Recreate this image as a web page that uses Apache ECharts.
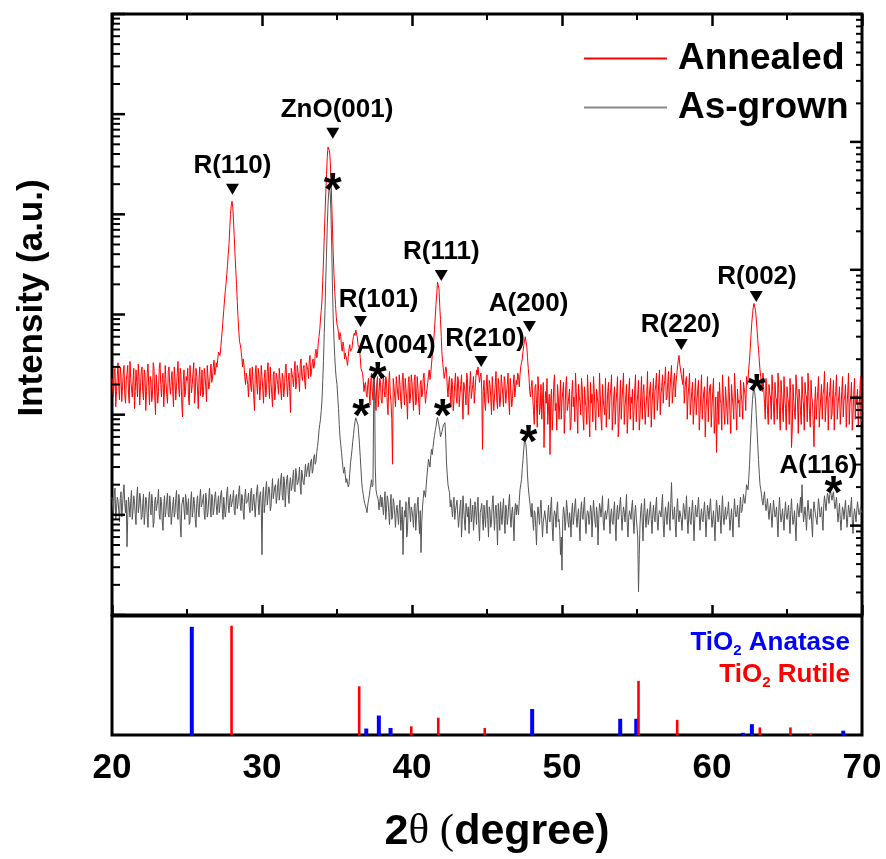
<!DOCTYPE html>
<html><head><meta charset="utf-8">
<script src="https://cdn.jsdelivr.net/npm/echarts@6/dist/echarts.min.js"></script>
<style>html,body{margin:0;padding:0;background:#fff}#chart{width:886px;height:859px}</style>
</head><body><div id="chart"></div>
<script>
// ---------- data ----------
const X_START = 20, X_STEP = 0.1; // 2theta sampling: main points at 20.0, 20.1 ... 70.0; mid points at 20.05 ... 69.95

// Annealed scan (a.u.), main points, one row = 1 degree
const annealed = [
2300,1500,2900,1700,3300,1400,2500,1900,3100,1300,
2600,1600,3400,1800,2200,1150,2800,1500,2400,1900,
3000,1400,2500,1700,3200,1250,2200,1600,2900,1000,
2400,1700,3300,1500,2600,1800,2100,1300,3000,1600,
2700,1200,2300,1900,3400,1500,2500,950,2800,1700,
2200,1450,3100,1650,2600,1300,2900,1800,2300,1550,
2800,1600,2500,1350,3000,2000,3200,2300,3500,2700,
3000,4200,3900,5800,8800,14000,20000,31000,50000,100000,
135000,86000,40000,20000,9500,5400,4500,3000,3100,2000,
2700,1500,2900,1700,2200,1100,3100,1600,2500,1900,
2400,1300,2800,1750,3300,1450,2100,1200,2700,1800,
2500,1600,3000,1400,2300,1900,3200,1500,2600,1050,
2800,1900,3400,2000,2700,1700,3600,2200,3100,1800,
3300,2300,3900,2700,3600,3100,4500,4000,6000,9000,
14000,35000,100000,250000,470000,430000,220000,70000,25000,12600,
7900,6500,6600,4700,5300,3600,4200,3100,4500,4300,
4600,6000,6200,7100,5000,4600,2900,2600,1700,2100,
1500,2300,1250,2600,1400,2000,1100,2400,1600,2100,
1300,2500,1500,2200,1000,2700,1350,320,1900,1200,
2300,1400,2000,1150,2600,1250,1800,900,2400,1500,
2100,1100,2500,1400,1800,1000,2200,1600,2600,1300,
1800,2500,2240,3200,4500,7100,12600,21000,18000,8900,
4000,2700,2240,2800,1500,2400,1200,2000,1400,2600,
1300,2200,1600,2500,900,1900,1250,2300,1500,2700,
1400,2400,1700,2800,3000,2100,2600,450,2200,1100,
2500,1300,2000,1000,2300,1500,2700,1150,1900,1400,
2400,1200,2100,1600,2600,1000,2200,1450,2500,1800,
2000,2400,2500,3300,4300,5400,5900,3700,2350,1500,
2200,1100,1900,1300,2400,1000,2000,1450,470,1700,
2300,1200,400,1800,1050,2500,1300,2000,900,2200,
1400,2100,1000,2400,1250,1800,800,2200,1500,2600,
1100,2000,1350,2300,950,1900,1200,2500,1000,2100,
1600,2400,1100,1800,1300,2600,900,2000,1450,2300,
1150,2100,1500,2500,1000,1900,1300,2400,850,2200,
1400,2600,1200,2000,1000,2300,1500,1800,1100,2500,
1300,2200,950,2400,1600,2000,1200,2700,1400,2100,
1250,2300,1700,2600,1400,2800,1600,2500,1900,3000,
1500,2700,1800,3100,1700,2600,2100,3000,3900,3300,
2600,2900,1800,2400,1500,2600,1300,2100,1150,2300,
1400,2200,1000,2500,1300,1900,1100,2400,1500,2000,
1200,2300,900,420,1700,2100,1300,2500,1050,1900,
1450,2400,1000,2000,1250,2600,1100,1800,1400,2200,
1300,2100,1600,2400,2240,3500,6300,10000,12900,11000,
7100,4500,2800,2000,2600,1300,2300,1100,2000,1500,
2500,1200,2100,1400,2600,1000,2200,1600,2400,1150,
1900,1300,2300,470,2000,1050,2500,1400,1800,1100,
2400,1250,2100,1500,2600,1000,2200,1350,480,1900,
1300,2400,1100,2000,1600,2700,1200,2100,1450,2300,
1000,2200,1500,2500,1250,1900,1100,2400,1400,2000,
1200,2600,1300,2100,1000,2300,1550,1800,1150,2400,
1450
];
// Annealed scan, mid points (20.05 ... 69.95)
const annealedMid = [
1800,2700,1200,2400,1900,3000,1350,2600,1600,2200,
3100,1300,2300,1500,2900,1700,2100,3200,1250,2700,
1700,2800,1100,2600,1900,2400,1350,3300,1500,2500,
1300,2900,2000,2300,1200,3100,1600,2700,1900,2200,
1700,3000,1400,2600,1800,2900,1300,2200,1500,2400,
2900,1250,2300,2000,3300,1600,2400,1150,3000,1900,
1500,2900,1900,3100,1800,2600,2100,3000,2500,3300,
3600,4100,4700,7000,11000,17000,25000,40000,72000,122000,
118000,60000,28000,13500,7000,5000,3700,3600,2400,2600,
2000,2400,1900,3000,1500,2600,2000,2900,1400,3100,
1800,2300,1500,2700,2000,3000,1600,2500,1400,2600,
2000,2900,1800,2600,1500,2800,2100,2200,1700,2900,
2300,2700,1800,3100,2300,3200,2400,2900,2100,3300,
2800,3500,2400,3300,2900,4100,3700,5200,7000,11000,
22000,60000,160000,370000,490000,340000,130000,40000,17000,9500,
7500,5600,6000,4300,4800,4100,3500,3800,5000,4200,
5500,6500,7000,6000,4800,3700,2800,2200,2000,1600,
2000,1600,2200,1700,2400,1500,2100,1200,2300,1400,
2000,1700,2400,1300,2100,1600,900,2300,1500,2400,
1600,2500,1350,2200,1700,2300,1400,2100,1300,2500,
1500,2200,1250,2400,1300,2000,1500,2300,1700,1600,
2100,2800,2600,3900,5500,9500,16000,21500,12000,6000,
3300,2300,3000,1900,2100,1600,2300,1100,2100,1500,
2400,1200,2000,1400,2100,1600,2600,1000,2000,1450,
2000,1300,2300,2500,3100,2400,1800,1700,1300,1900,
1600,2200,1500,2400,1100,2000,1400,2300,1200,2500,
1600,2400,1300,2000,1400,2300,1200,2000,1500,2200,
2600,1900,3000,3600,4900,6000,4800,2900,1700,1900,
1500,800,2000,750,1700,1200,900,2100,1100,1300,
800,1600,1400,700,2000,1100,700,1500,1300,900,
1700,650,1900,1100,1500,700,1600,1200,850,1700,
650,1500,1000,1800,700,1400,800,1600,600,1300,
850,1700,700,1500,950,1600,700,1400,1000,750,
1700,900,1800,700,1500,800,1700,600,1400,900,
1900,800,1500,650,1700,900,1300,700,1800,850,
1600,700,1500,900,2000,800,1600,950,1800,750,
1700,900,2000,1100,2100,1000,1900,1300,2200,1400,
2100,1200,2400,1300,2200,1500,2500,3500,3200,2500,
2000,1300,2200,900,1900,1000,1700,800,1600,1000,
1800,700,1600,900,1700,600,1500,850,1900,750,
1700,650,1500,1100,800,1400,700,1600,800,1400,
800,1700,650,1500,900,1800,700,1300,950,1600,
900,1800,1100,2000,2900,4600,8200,11800,13000,9000,
5600,3500,2400,1700,1800,900,1700,800,1600,900,
1700,800,1500,900,1800,700,1600,850,1500,700,
1500,800,1600,700,1400,900,1700,650,1500,800,
1500,700,1600,850,1700,750,1500,800,1300,900,
1700,750,1500,900,1800,850,1600,700,1700,900,
1600,700,1700,900,1500,800,1700,950,1500,750,
1700,800,1500,700,1600,900,1300,750,1600,850
];

// As-grown scan (a.u.), main points
const asGrown = [
150,100,185,115,140,85,170,120,200,105,
48,150,95,175,110,135,80,190,120,145,
95,160,105,140,75,170,100,130,85,150,
115,180,90,135,70,155,110,165,95,125,
80,150,105,175,90,140,60,130,115,160,
100,145,85,170,110,130,75,155,95,180,
120,160,90,140,105,185,95,150,115,170,
100,155,125,175,90,145,110,190,105,160,
120,175,100,160,130,195,110,150,90,180,
125,165,105,185,115,155,135,200,100,170,
40,190,130,215,150,180,120,230,140,200,
150,230,170,260,140,215,180,250,130,235,
190,280,170,250,210,300,160,270,200,320,
230,330,250,360,280,400,340,480,700,900,
1400,3500,11000,40000,125000,190000,100000,18000,5600,2800,
2000,1150,600,420,290,300,210,240,200,330,
447,630,850,960,790,500,280,178,141,126,
105,141,178,224,200,2450,178,166,112,158,
150,100,170,115,140,80,160,95,130,75,
125,80,140,90,40,110,135,70,150,85,
110,75,130,95,150,65,42,120,175,150,
250,360,300,450,470,620,760,940,900,600,
680,790,830,330,200,166,141,95,150,110,
140,75,120,60,155,85,130,95,65,145,
100,70,135,80,150,55,115,90,125,75,
140,60,110,85,155,70,125,50,105,135,
80,145,65,115,95,160,75,120,55,130,
126,100,178,224,355,560,500,250,158,112,
130,70,105,50,120,80,140,60,95,115,
65,125,85,150,55,110,75,135,90,40,
28,120,70,140,85,105,60,130,95,145,
75,115,55,135,90,150,65,110,80,125,
60,140,85,120,50,130,95,155,70,110,
90,145,65,115,80,135,55,125,100,150,
70,120,85,160,60,110,90,140,65,125,
95,17,80,130,55,145,75,115,90,135,
65,125,85,150,70,110,95,160,60,120,
80,135,70,210,90,120,60,145,85,115,
70,130,90,155,65,120,80,140,55,125,
95,150,70,115,85,135,60,125,90,145,
75,110,55,140,85,125,65,155,80,120,
90,135,70,115,60,145,95,125,75,150,
110,160,130,200,178,316,710,1410,1780,1400,
710,355,200,158,125,170,110,145,90,130,
75,140,95,120,60,150,85,115,70,135,
90,125,65,145,80,110,55,130,95,150,
200,85,120,70,140,90,115,60,135,100,
80,145,95,120,70,155,110,165,130,175,
140,170,115,150,85,130,70,120,90,140,
75,125,95,150,65,115,85,135,100,120,
105
];
// As-grown scan, mid points (20.05 ... 69.95)
const asGrownMid = [
120,160,90,150,110,145,95,165,130,140,
95,120,140,90,155,100,150,105,165,90,
130,80,150,95,140,115,160,75,135,110,
140,100,150,85,125,95,140,100,155,80,
125,95,145,105,160,80,125,150,90,140,
120,80,140,95,150,90,130,110,145,120,
140,100,165,95,145,120,160,100,150,125,
130,105,160,115,150,95,165,125,140,120,
145,110,150,115,170,125,160,105,150,130,
140,120,170,110,160,95,175,130,155,115,
160,105,180,125,190,110,170,145,190,130,
200,140,230,155,240,120,230,160,210,175,
230,180,290,200,240,190,280,210,260,240,
300,240,340,260,380,320,420,560,800,1100,
2200,6500,22000,75000,170000,160000,45000,9000,3800,2300,
1500,800,500,350,260,250,230,190,260,380,
540,750,930,920,640,380,210,160,130,115,
125,155,200,190,1800,300,160,140,135,120,
120,135,90,155,105,125,90,145,100,110,
100,115,70,120,85,95,60,125,110,120,
95,120,70,125,90,110,85,145,160,200,
300,330,390,400,550,700,880,920,700,620,
740,820,560,250,180,120,115,130,90,125,
100,95,140,90,115,70,110,120,100,85,
125,95,110,120,80,105,130,70,100,120,
90,120,75,130,100,110,90,130,70,100,
115,90,125,80,130,95,105,85,110,100,
115,140,200,290,450,530,380,190,135,95,
90,110,75,95,100,115,90,85,110,80,
100,90,120,75,95,100,110,85,70,60,
90,105,85,115,75,90,110,80,120,95,
100,80,110,95,120,85,95,105,90,110,
95,110,75,100,90,115,120,85,100,90,
115,95,100,85,110,80,105,90,125,100,
95,105,115,80,95,100,120,85,100,95,
60,40,110,85,105,95,100,80,115,90,
100,95,120,85,100,105,125,80,95,100,
110,95,130,115,95,80,105,100,110,90,
100,115,105,90,100,85,110,95,90,100,
120,100,95,90,110,95,90,110,120,100,
90,80,100,115,95,90,110,95,100,90,
110,95,90,85,105,110,100,95,120,105,
130,140,155,190,230,480,1050,1700,1650,1000,
500,260,180,135,150,130,125,110,115,100,
105,115,100,85,110,105,95,90,105,100,
105,90,110,100,90,80,100,110,120,105,
120,100,95,105,110,95,80,105,115,90,
110,120,100,90,125,130,140,150,160,155,
160,135,130,110,105,90,95,110,115,100,
95,110,120,90,95,100,110,115,105,110
];

// Reference patterns (relative intensity)
const anatasePos = [25.32, 36.95, 37.79, 38.57, 48.01, 53.88, 54.95, 62.06, 62.66, 68.75];
const anataseInt = [100, 6, 18, 6.5, 24, 15, 15, 2, 10, 4];
const rutilePos  = [27.97, 36.48, 39.95, 41.75, 44.85, 55.10, 57.68, 63.19, 65.23, 66.57];
const rutileInt  = [101, 45, 8, 16, 6.5, 50, 14, 7, 7, 1];

// Peak annotations
const peakNames  = ['R(110)', 'ZnO(001)', 'R(101)', 'A(004)', 'R(111)', 'R(210)', 'A(200)', 'R(220)', 'R(002)', 'A(116)'];
const peakLabelX = [28.03, 35.0, 37.77, 38.93, 41.95, 44.87, 47.77, 57.9, 63.0, 67.1];
const peakLabelY = [302000, 1096000, 14125, 4898, 42658, 5754, 12882, 7943, 23988, 309];
const markerX = [28.03, 34.72, 36.57, 41.95, 44.61, 47.83, 57.95, 62.95];
const markerY = [177800, 645700, 8511, 24547, 3388, 7586, 5012, 15136];
const starX = [34.72, 36.61, 37.72, 42.05, 47.77, 62.98, 68.1];
const starY = [213800, 1175, 2754, 1175, 646, 2089, 200];

const xTickLabels = [20, 30, 40, 50, 60, 70];

// ---------- build ----------
const FONT = '"Liberation Sans", Arial, Helvetica, sans-serif';
function mergeScan(main, mid) {
  const out = [];
  for (let i = 0; i < main.length; i++) {
    out.push([Math.round((X_START + i * X_STEP) * 100) / 100, main[i]]);
    if (i < mid.length) out.push([Math.round((X_START + (i + 0.5) * X_STEP) * 100) / 100, mid[i]]);
  }
  return out;
}
const annealedData = mergeScan(annealed, annealedMid);
const asGrownData = mergeScan(asGrown, asGrownMid);

function logTicks(decades, lo, hi, xPos) {
  const out = [];
  decades.forEach(d => {
    for (let m = 1; m <= 9; m++) {
      const v = d * m;
      if (v >= lo * 0.999 && v <= hi * 1.001) out.push([xPos, v, m === 1 ? 1 : 0]);
    }
  });
  return out;
}
const leftTicks = logTicks([1e1, 1e2, 1e3, 1e4, 1e5, 1e6, 1e7], 10, 1e7, 20);
const rightTicks = logTicks([0.1, 1, 10, 100, 1000, 10000], 0.2, 1e4, 70);

function tickRender(dir, majorLen, minorLen) {
  return function (params, api) {
    const p = api.coord([api.value(0), api.value(1)]);
    const major = api.value(2) === 1;
    const len = major ? majorLen : minorLen;
    return { type: 'line', shape: { x1: p[0], y1: p[1], x2: p[0] + dir * len, y2: p[1] },
      style: { stroke: '#000', lineWidth: major ? 2.5 : 2 } };
  };
}
function stickRender(w, color) {
  return function (params, api) {
    const b = api.coord([api.value(0), 0]);
    const t = api.coord([api.value(0), api.value(1)]);
    return { type: 'rect', shape: { x: b[0] - w / 2, y: t[1], width: w, height: b[1] - t[1] },
      style: { fill: color } };
  };
}

const hiddenAxis = { axisLine: { show: false }, axisTick: { show: false }, axisLabel: { show: false }, splitLine: { show: false } };
const tickedX = (pos, len) => ({
  gridIndex: 0, type: 'value', min: 20, max: 70, interval: 10, position: pos,
  axisLine: { show: false },
  axisTick: { show: true, inside: true, length: len, lineStyle: { color: '#000', width: 2.5 } },
  minorTick: { show: true, splitNumber: 2, length: 6, lineStyle: { color: '#000', width: 2 } },
  axisLabel: { show: false }, splitLine: { show: false }, minorSplitLine: { show: false }
});

const chart = echarts.init(document.getElementById('chart'), null, { renderer: 'canvas' });
chart.setOption({
  animation: false,
  backgroundColor: '#fff',
  grid: [
    { left: 112, top: 14, width: 750, height: 601, show: true, borderColor: '#000', borderWidth: 3, backgroundColor: 'transparent' },
    { left: 112, top: 616, width: 750, height: 119, show: true, borderColor: '#000', borderWidth: 3, backgroundColor: 'transparent' }
  ],
  xAxis: [
    tickedX('bottom', 10),
    tickedX('top', 12),
    Object.assign({ gridIndex: 1, type: 'value', min: 20, max: 70, interval: 10, position: 'bottom' }, hiddenAxis, {
      axisLabel: { show: true, fontSize: 35, fontWeight: 'bold', color: '#000', fontFamily: FONT, margin: 16,
        formatter: v => (xTickLabels.indexOf(v) >= 0 ? String(v) : '') }
    })
  ],
  yAxis: [
    Object.assign({ gridIndex: 0, type: 'log', logBase: 10, min: 10, max: 1e7, position: 'left' }, hiddenAxis),
    Object.assign({ gridIndex: 0, type: 'log', logBase: 10, min: 0.2, max: 1e4, position: 'right' }, hiddenAxis),
    Object.assign({ gridIndex: 1, type: 'value', min: 0, max: 110 }, hiddenAxis)
  ],
  legend: {
    data: [{ name: 'Annealed' }, { name: 'As-grown', itemStyle: { color: '#8a8a8a' } }],
    orient: 'vertical', left: 584, top: 40, padding: 0, icon: 'rect', itemWidth: 83, itemHeight: 2, itemGap: 12,
    selectedMode: false,
    textStyle: { fontSize: 37, fontWeight: 'bold', color: '#000', fontFamily: FONT, padding: [0, 0, 0, 6] }
  },
  graphic: [
    { type: 'text', x: 32, y: 298, rotation: Math.PI / 2,
      style: { text: 'Intensity (a.u.)', fontSize: 35, fontWeight: 'bold', fontFamily: FONT, fill: '#000', align: 'center', verticalAlign: 'middle' } },
    { type: 'text', x: 497, y: 832,
      style: { text: '{b|2}{t|θ}{p| (}{b|degree}{q|)}', align: 'center', verticalAlign: 'middle', fill: '#000',
        rich: {
          b: { fontSize: 43, fontWeight: 'bold', fontFamily: FONT, fill: '#000' },
          t: { fontSize: 43, fontFamily: '"Liberation Serif", "Times New Roman", serif', fill: '#000' },
          p: { fontSize: 43, fontFamily: '"Liberation Serif", "Times New Roman", serif', fill: '#000' },
          q: { fontSize: 43, fontWeight: 'bold', fontFamily: FONT, fill: '#000' }
        } } },
    { type: 'text', x: 850, y: 643,
      style: { text: '{m|TiO}{s|2}{m| Anatase}', align: 'right', verticalAlign: 'middle',
        rich: {
          m: { fontSize: 26, fontWeight: 'bold', fontFamily: FONT, fill: '#0000ff', lineHeight: 30 },
          s: { fontSize: 15, fontWeight: 'bold', fontFamily: FONT, fill: '#0000ff', lineHeight: 15, verticalAlign: 'bottom' }
        } } },
    { type: 'text', x: 850, y: 675,
      style: { text: '{m|TiO}{s|2}{m| Rutile}', align: 'right', verticalAlign: 'middle',
        rich: {
          m: { fontSize: 26, fontWeight: 'bold', fontFamily: FONT, fill: '#ff0000', lineHeight: 30 },
          s: { fontSize: 15, fontWeight: 'bold', fontFamily: FONT, fill: '#ff0000', lineHeight: 15, verticalAlign: 'bottom' }
        } } }
  ],
  series: [
    { name: 'Annealed', type: 'line', xAxisIndex: 0, yAxisIndex: 0, data: annealedData, showSymbol: false, symbol: 'none',
      lineStyle: { color: '#ff0000', width: 1 }, itemStyle: { color: '#ff0000' }, z: 2, silent: true },
    { name: 'As-grown', type: 'line', xAxisIndex: 0, yAxisIndex: 0, data: asGrownData, showSymbol: false, symbol: 'none',
      lineStyle: { color: '#555555', width: 1 }, itemStyle: { color: '#555555' }, z: 3, silent: true },
    { type: 'custom', xAxisIndex: 0, yAxisIndex: 0, data: leftTicks, renderItem: tickRender(1, 13, 8), silent: true, z: 6 },
    { type: 'custom', xAxisIndex: 0, yAxisIndex: 1, data: rightTicks, renderItem: tickRender(-1, 12, 6), silent: true, z: 6 },
    { type: 'scatter', xAxisIndex: 0, yAxisIndex: 0, symbol: 'triangle', symbolRotate: 180, symbolSize: [13, 11],
      itemStyle: { color: '#000', opacity: 1 }, data: markerX.map((x, i) => [x, markerY[i]]), z: 7, silent: true },
    { type: 'scatter', xAxisIndex: 0, yAxisIndex: 0, symbolSize: 1, itemStyle: { color: 'rgba(0,0,0,0)', opacity: 1 },
      data: peakNames.map((n, i) => ({ name: n, value: [peakLabelX[i], peakLabelY[i]] })),
      label: { show: true, position: 'inside', formatter: '{b}', fontSize: 26, fontWeight: 'bold', color: '#000', fontFamily: FONT },
      z: 8, silent: true },
    { type: 'scatter', xAxisIndex: 0, yAxisIndex: 0, symbolSize: 1, itemStyle: { color: 'rgba(0,0,0,0)', opacity: 1 },
      data: starX.map((x, i) => [x, starY[i]]),
      label: { show: true, position: 'inside', formatter: '*', fontSize: 46, fontWeight: 'bold', color: '#000', fontFamily: FONT, offset: [0, 11] },
      z: 8, silent: true },
    { type: 'custom', xAxisIndex: 2, yAxisIndex: 2, data: anatasePos.map((x, i) => [x, anataseInt[i]]),
      renderItem: stickRender(4, '#0000ff'), silent: true },
    { type: 'custom', xAxisIndex: 2, yAxisIndex: 2, data: rutilePos.map((x, i) => [x, rutileInt[i]]),
      renderItem: stickRender(2.6, '#ff0000'), silent: true }
  ]
});
</script>
</body></html>
